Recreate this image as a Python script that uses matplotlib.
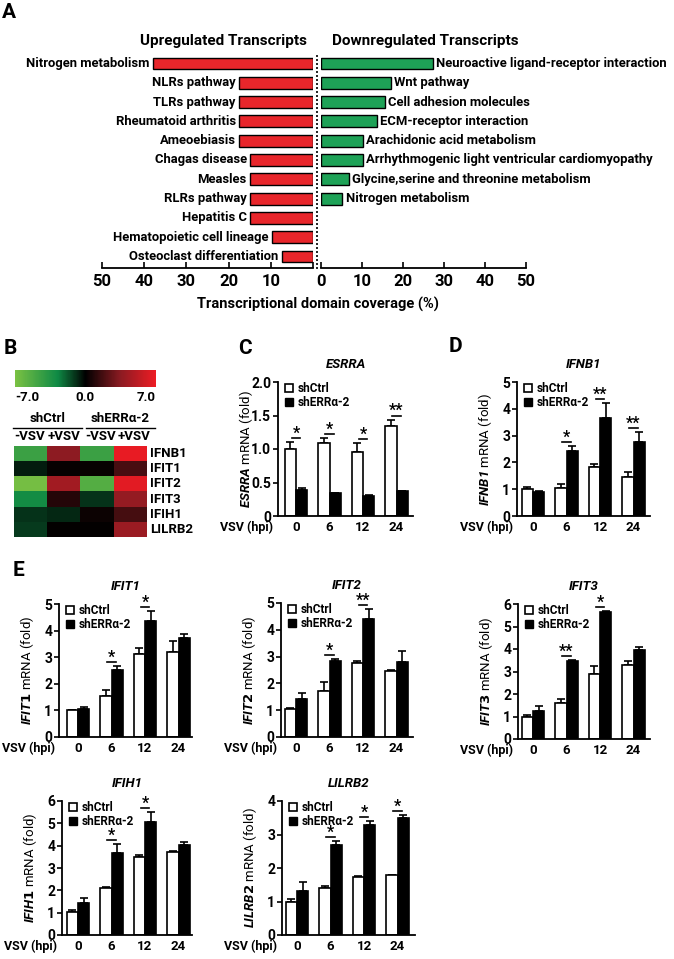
import numpy as np
import matplotlib
matplotlib.use('Agg')
import matplotlib.pyplot as plt
from matplotlib.patches import Patch
from matplotlib.colors import LinearSegmentedColormap
from matplotlib.lines import Line2D

plt.rcParams['font.family'] = ['Roboto', 'DejaVu Sans']
plt.rcParams['font.weight'] = 'bold'
plt.rcParams['mathtext.fontset'] = 'custom'
plt.rcParams['mathtext.it'] = 'Roboto:italic:bold'
plt.rcParams['mathtext.sf'] = 'Roboto:italic'

W, H = 674, 959
fig = plt.figure(figsize=(W / 100, H / 100), dpi=100)


def px_axes(x0, y0, x1, y1):
    return fig.add_axes([x0 / W, 1 - y1 / H, (x1 - x0) / W, (y1 - y0) / H])


def ftext(x, y, s, **kw):
    fig.text(x / W, 1 - y / H, s, **kw)


# ---------------- data ----------------
up_terms = ['Nitrogen metabolism', 'NLRs pathway', 'TLRs pathway', 'Rheumatoid arthritis',
            'Ameoebiasis', 'Chagas disease', 'Measles', 'RLRs pathway', 'Hepatitis C',
            'Hematopoietic cell lineage', 'Osteoclast differentiation']
up_cov = [38, 17.5, 17.5, 17.5, 17.5, 14.9, 14.9, 14.9, 14.9, 9.8, 7.4]
down_terms = ['Neuroactive ligand-receptor interaction', 'Wnt pathway', 'Cell adhesion molecules',
              'ECM-receptor interaction', 'Arachidonic acid metabolism',
              'Arrhythmogenic light ventricular cardiomyopathy',
              'Glycine,serine and threonine metabolism', 'Nitrogen metabolism']
down_cov = [27.3, 17, 15.5, 13.7, 10.2, 10.2, 6.8, 5.2]

heat_genes = ['IFNB1', 'IFIT1', 'IFIT2', 'IFIT3', 'IFIH1', 'LILRB2']
heat_cols = ['-VSV', '+VSV', '-VSV', '+VSV']
heat_vals = [[-4.5, 3.5, -4.5, 6.8],
             [-0.6, 0.2, 0.2, 1.8],
             [-6.8, 4.3, -5.5, 6.6],
             [-3.0, 0.9, -1.0, 3.8],
             [-1.0, -0.8, 0.3, 1.7],
             [-1.2, 0.1, 0.1, 4.0]]

hpi = ['0', '6', '12', '24']

esrra_ctrl = [1.0, 1.09, 0.95, 1.34]
esrra_ctrl_err = [0.1, 0.08, 0.14, 0.1]
esrra_kd = [0.39, 0.34, 0.30, 0.37]
esrra_kd_err = [0.03, 0.005, 0.01, 0.01]
esrra_sig = ['*', '*', '*', '**']

ifnb1_ctrl = [1.02, 1.05, 1.82, 1.45]
ifnb1_ctrl_err = [0.06, 0.15, 0.12, 0.2]
ifnb1_kd = [0.88, 2.42, 3.65, 2.77]
ifnb1_kd_err = [0.06, 0.2, 0.55, 0.35]
ifnb1_sig = ['', '*', '**', '**']

ifit1_ctrl = [1.0, 1.56, 3.12, 3.18]
ifit1_ctrl_err = [0.02, 0.2, 0.22, 0.42]
ifit1_kd = [1.05, 2.52, 4.37, 3.72]
ifit1_kd_err = [0.06, 0.15, 0.35, 0.15]
ifit1_sig = ['', '*', '*', '']

ifit2_ctrl = [1.03, 1.73, 2.77, 2.46]
ifit2_ctrl_err = [0.04, 0.32, 0.08, 0.03]
ifit2_kd = [1.4, 2.82, 4.4, 2.78]
ifit2_kd_err = [0.25, 0.08, 0.37, 0.42]
ifit2_sig = ['', '*', '**', '']

ifit3_ctrl = [1.0, 1.58, 2.9, 3.28]
ifit3_ctrl_err = [0.05, 0.18, 0.35, 0.18]
ifit3_kd = [1.25, 3.45, 5.65, 3.95]
ifit3_kd_err = [0.23, 0.07, 0.05, 0.13]
ifit3_sig = ['', '**', '*', '']

ifih1_ctrl = [1.02, 2.1, 3.5, 3.72]
ifih1_ctrl_err = [0.1, 0.05, 0.1, 0.05]
ifih1_kd = [1.45, 3.68, 5.05, 4.02]
ifih1_kd_err = [0.22, 0.4, 0.45, 0.13]
ifih1_sig = ['', '*', '*', '']

lilrb2_ctrl = [1.0, 1.4, 1.73, 1.78]
lilrb2_ctrl_err = [0.06, 0.06, 0.03, 0.02]
lilrb2_kd = [1.32, 2.7, 3.27, 3.48]
lilrb2_kd_err = [0.26, 0.1, 0.12, 0.1]
lilrb2_sig = ['', '*', '*', '*']

# ---------------- panel A ----------------
red = '#e8262b'
green = '#1ea257'
row_y0, row_dy = 63.5, 19.3
axis_y = 268
top_y = 50
ylim = ((axis_y - row_y0) / row_dy, (top_y - row_y0) / row_dy)

axL = px_axes(102, top_y, 313, axis_y)
axR = px_axes(321, top_y, 526, axis_y)
axL.barh(range(len(up_cov)), up_cov, height=0.62, color=red, edgecolor='k', lw=1)
axR.barh(range(len(down_cov)), down_cov, height=0.62, color=green, edgecolor='k', lw=1)
axL.set_xlim(50, 0)
axR.set_xlim(0, 50)
for ax in (axL, axR):
    ax.set_ylim(*ylim)
    ax.set_yticks([])
    for s in ('top', 'right', 'left'):
        ax.spines[s].set_visible(False)
    ax.spines['bottom'].set_linewidth(1.3)
    ax.tick_params(axis='x', direction='in', length=4, width=1.2, labelsize=12, pad=4)
axL.set_xticks([50, 40, 30, 20, 10, 0])
axL.set_xticklabels(['50', '40', '30', '20', '10', ''])
axR.set_xticks([0, 10, 20, 30, 40, 50])
for i, (t, v) in enumerate(zip(up_terms, up_cov)):
    axL.text(v + 0.8, i, t, ha='right', va='center', fontsize=9.4)
for i, (t, v) in enumerate(zip(down_terms, down_cov)):
    axR.text(v + 0.8, i, t, ha='left', va='center', fontsize=9.4, clip_on=False)
fig.add_artist(Line2D([317 / W, 317 / W], [1 - 55 / H, 1 - 271 / H], color='k', lw=1.2,
                      ls=(0, (1.2, 1.2))))
ftext(223, 41, 'Upregulated Transcripts', ha='center', va='center', fontsize=11)
ftext(425, 41, 'Downregulated Transcripts', ha='center', va='center', fontsize=11)
ftext(318, 304, 'Transcriptional domain coverage (%)', ha='center', va='center', fontsize=10.5)

# ---------------- panel letters ----------------
for letter, x, y in [('A', 9, 13), ('B', 10, 349), ('C', 245, 348), ('D', 455, 347), ('E', 18, 570)]:
    ftext(x, y, letter, ha='center', va='center', fontsize=15)

# ---------------- panel B ----------------
cmap = LinearSegmentedColormap.from_list(
    'gkr', [(0, '#7ac143'), (0.3, '#0f8a45'), (0.5, '#000000'), (0.75, '#8c1b22'), (1, '#ed1c24')])
axH = px_axes(14, 446, 147, 537)
im = axH.imshow(np.array(heat_vals), cmap=cmap, vmin=-7, vmax=7, aspect='auto')
axH.set_xticks([])
axH.set_yticks([])
for s in axH.spines.values():
    s.set_visible(False)
for i, g in enumerate(heat_genes):
    axH.text(3.6, i, g, ha='left', va='center', fontsize=9.5)

cax = px_axes(15, 370, 156, 387)
cb = fig.colorbar(im, cax=cax, orientation='horizontal')
cb.set_ticks([])
cb.outline.set_visible(False)
ftext(15, 398, '-7.0', ha='left', va='center', fontsize=9.5)
ftext(85, 398, '0.0', ha='center', va='center', fontsize=9.5)
ftext(156, 398, '7.0', ha='right', va='center', fontsize=9.5)
ftext(48, 418, 'shCtrl', ha='center', va='center', fontsize=9.5)
ftext(120, 418, 'shERRα-2', ha='center', va='center', fontsize=9.5)
fig.add_artist(Line2D([13 / W, 82 / W], [1 - 428 / H] * 2, color='k', lw=1))
fig.add_artist(Line2D([86 / W, 155 / W], [1 - 428 / H] * 2, color='k', lw=1))
for x, c in zip([30, 64, 101, 134], heat_cols):
    ftext(x, 437, c, ha='center', va='center', fontsize=9.5)


# ---------------- bar panels ----------------
def bar_panel(L, R, c0, top, bottom, ymax, yticks, ylabels, ctrl, ctrl_err, kd, kd_err, sig,
              gene, math='it'):
    sp = 33.5
    ax = px_axes(L, top, R, bottom)
    x = np.arange(4)
    w = 0.34
    ax.bar(x - w / 2, ctrl, w, color='white', edgecolor='k', lw=1.2, zorder=2)
    ax.bar(x + w / 2, kd, w, color='k', edgecolor='k', lw=1.2, zorder=2)
    ax.errorbar(x - w / 2, ctrl, yerr=[np.zeros(4), ctrl_err], fmt='none', ecolor='k',
                elinewidth=1.2, capsize=3, capthick=1.2, zorder=1)
    ax.errorbar(x + w / 2, kd, yerr=[np.zeros(4), kd_err], fmt='none', ecolor='k',
                elinewidth=1.2, capsize=3, capthick=1.2, zorder=1)
    ax.set_xlim((L - c0) / sp, (R - c0) / sp)
    ax.set_ylim(0, ymax)
    ppu = (bottom - top) / ymax
    for i in range(4):
        if not sig[i]:
            continue
        yl = max(ctrl[i] + ctrl_err[i], kd[i] + kd_err[i]) + 4 / ppu
        ax.plot([i - 0.13, i + 0.13], [yl, yl], color='k', lw=1.2, clip_on=False)
        ax.text(i, yl + 0.3 / ppu, sig[i], ha='center', va='baseline', fontsize=11.5,
                clip_on=False)
    for s in ('top', 'right'):
        ax.spines[s].set_visible(False)
    for s in ('left', 'bottom'):
        ax.spines[s].set_linewidth(1.3)
    ax.set_yticks(yticks)
    ax.set_yticklabels(ylabels)
    ax.set_xticks(x)
    ax.set_xticklabels(hpi)
    ax.tick_params(axis='y', direction='out', length=3.5, width=1.2, labelsize=10, pad=1.5)
    ax.tick_params(axis='x', length=0, labelsize=9.5, pad=3.5)
    ax.text(-31 / (R - L), -11 / (bottom - top), 'VSV (hpi)', transform=ax.transAxes,
            ha='center', va='center', fontsize=9)
    ax.set_title(gene, fontsize=9.5, fontstyle='italic', fontweight='bold', pad=10)
    ax.set_ylabel(r'$\math%s{%s}$ mRNA (fold)' % (math, gene), fontsize=9.5)
    ax.yaxis.set_label_coords(-23 / (R - L), 0.5)
    ax.legend(handles=[Patch(facecolor='white', edgecolor='k', lw=1.2, label='shCtrl'),
                       Patch(facecolor='k', edgecolor='k', label='shERRα-2')],
              loc='upper left', bbox_to_anchor=(0.05, 1.0), frameon=False,
              prop={'weight': 'bold', 'size': 8.5}, handlelength=0.7, handleheight=0.7,
              handletextpad=0.4, labelspacing=0.1, borderaxespad=0, borderpad=0)
    return ax


bar_panel(278, 413, 296, 382, 516, 2.0, [0, 0.5, 1.0, 1.5, 2.0], ['0', '0.5', '1.0', '1.5', '2.0'],
          esrra_ctrl, esrra_ctrl_err, esrra_kd, esrra_kd_err, esrra_sig, 'ESRRA', 'sf')
bar_panel(517, 650, 533, 382, 516, 5, range(6), [str(v) for v in range(6)],
          ifnb1_ctrl, ifnb1_ctrl_err, ifnb1_kd, ifnb1_kd_err, ifnb1_sig, 'IFNB1', 'sf')
bar_panel(59, 192, 78, 604, 737, 5, range(6), [str(v) for v in range(6)],
          ifit1_ctrl, ifit1_ctrl_err, ifit1_kd, ifit1_kd_err, ifit1_sig, 'IFIT1')
bar_panel(281, 413, 296, 603, 737, 5, range(6), [str(v) for v in range(6)],
          ifit2_ctrl, ifit2_ctrl_err, ifit2_kd, ifit2_kd_err, ifit2_sig, 'IFIT2')
bar_panel(518, 650, 533, 604, 739, 6, range(7), [str(v) for v in range(7)],
          ifit3_ctrl, ifit3_ctrl_err, ifit3_kd, ifit3_kd_err, ifit3_sig, 'IFIT3')
bar_panel(62, 192, 78, 801, 935, 6, range(7), [str(v) for v in range(7)],
          ifih1_ctrl, ifih1_ctrl_err, ifih1_kd, ifih1_kd_err, ifih1_sig, 'IFIH1')
bar_panel(282, 415, 297, 801, 935, 4, range(5), [str(v) for v in range(5)],
          lilrb2_ctrl, lilrb2_ctrl_err, lilrb2_kd, lilrb2_kd_err, lilrb2_sig, 'LILRB2')

fig.savefig('out.png', dpi=100)
